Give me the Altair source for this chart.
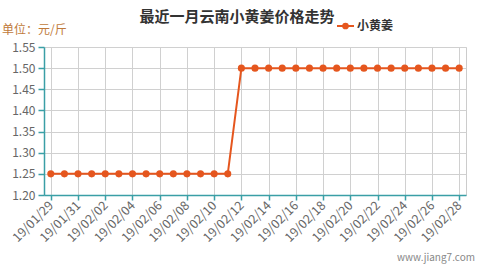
import altair as alt
import pandas as pd

# Daily prices (元/斤) for the last month
dates = ["19/01/29", "19/01/30", "19/01/31"] + [f"19/02/{d:02d}" for d in range(1, 29)]
prices = [1.25] * 14 + [1.50] * 17

df = pd.DataFrame({"date": dates, "price": prices})
tick_dates = dates[::2]

ORANGE = "#e5561e"
TEAL = "#3a9fa6"
FONT = "Noto Sans CJK SC"

x_enc = alt.X(
    "date:O",
    sort=dates,
    scale=alt.Scale(type="point", padding=0.5),
    axis=alt.Axis(
        values=tick_dates,
        title=None,
        labelAngle=-45,
        labelAlign="right",
        labelBaseline="middle",
        labelFontSize=12.5,
        labelColor="#666666",
        labelPadding=3,
        tickSize=5,
        grid=True,
    ),
)
y_enc = alt.Y(
    "price:Q",
    scale=alt.Scale(domain=[1.20, 1.55], nice=False, zero=False),
    axis=alt.Axis(
        values=[1.20, 1.25, 1.30, 1.35, 1.40, 1.45, 1.50, 1.55],
        format=".2f",
        title=None,
        labelFontSize=12,
        labelColor="#666666",
        labelPadding=3,
        tickSize=6,
        grid=True,
    ),
)

line = alt.Chart(df).mark_line(
    color=ORANGE, strokeWidth=2,
    point=alt.OverlayMarkDef(filled=True, color=ORANGE, size=50, opacity=1),
).encode(x=x_enc, y=y_enc)


def label(text, x, y, size, color, weight="normal", align="left"):
    return alt.Chart(pd.DataFrame({"t": [text]})).mark_text(
        font=FONT, fontSize=size, color=color, fontWeight=weight,
        align=align, baseline="middle",
    ).encode(text="t:N", x=alt.value(x), y=alt.value(y))


title = label("最近一月云南小黄姜价格走势", 193, -30, 15, "#333333", "bold", "center")
unit = label("单位：元/斤", -42, -17, 12, "#c07a3a")
legend_text = label("小黄姜", 313, -21, 12, "#333333", "bold")
watermark = label("www.jiang7.com", 431, 211, 10, "#888888", align="right")

legend_line = alt.Chart(pd.DataFrame({"a": [0]})).mark_rule(
    color=ORANGE, strokeWidth=2
).encode(x=alt.value(293), x2=alt.value(310), y=alt.value(-21))
legend_dot = alt.Chart(pd.DataFrame({"a": [0]})).mark_point(
    filled=True, color=ORANGE, size=45, opacity=1
).encode(x=alt.value(301.5), y=alt.value(-21))

chart = alt.layer(
    line, title, unit, legend_line, legend_dot, legend_text, watermark
).properties(
    width=422,
    height=148,
    autosize=alt.AutoSizeParams(type="none"),
    padding={"left": 44, "top": 47, "right": 12, "bottom": 74},
).configure_view(
    stroke="#cccccc", strokeWidth=1
).configure_axis(
    domainColor=TEAL,
    tickColor=TEAL,
    domainWidth=1.5,
    tickWidth=1.5,
    gridColor="#d0d0d0",
    labelFont=FONT,
)

chart.save("out.html", embed_options={"renderer": "svg", "actions": False})
